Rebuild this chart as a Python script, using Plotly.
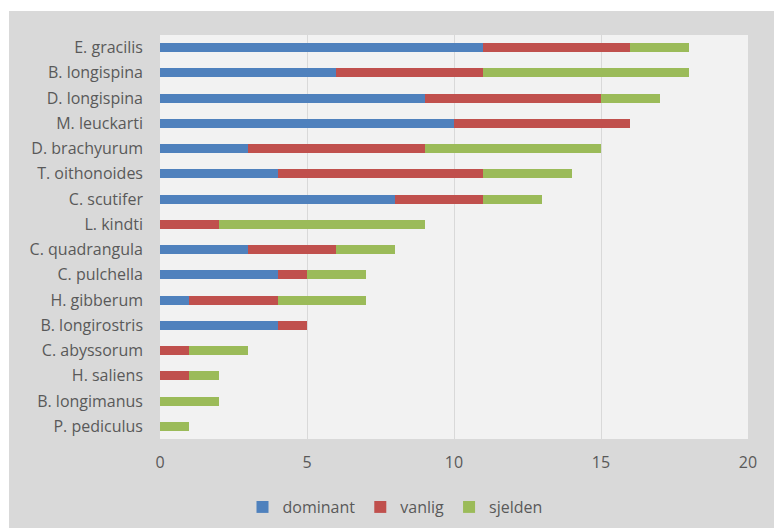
import plotly.graph_objects as go

# Species, top to bottom
species = [
    "E. gracilis", "B. longispina", "D. longispina", "M. leuckarti",
    "D. brachyurum", "T. oithonoides", "C. scutifer", "L. kindti",
    "C. quadrangula", "C. pulchella", "H. gibberum", "B. longirostris",
    "C. abyssorum", "H. saliens", "B. longimanus", "P. pediculus",
]

# Number of occurrences per frequency class
dominant = [11, 6, 9, 10, 3, 4, 8, 0, 3, 4, 1, 4, 0, 0, 0, 0]
vanlig = [5, 5, 6, 6, 6, 7, 3, 2, 3, 1, 3, 1, 1, 1, 0, 0]
sjelden = [2, 7, 2, 0, 6, 3, 2, 7, 2, 2, 3, 0, 2, 1, 2, 1]

x_ticks = [0, 5, 10, 15, 20]

series = [
    ("dominant", dominant, "#4f81bd"),
    ("vanlig", vanlig, "#c0504d"),
    ("sjelden", sjelden, "#9bbb59"),
]

FONT = "Open Sans, sans-serif"
TEXT = "#595959"

fig = go.Figure()
for name, vals, color in series:
    fig.add_trace(go.Bar(
        y=species, x=vals, name=name, orientation="h",
        marker=dict(color=color, line=dict(width=0)),
    ))

W, H = 774, 528
L, R, T, B = 160, 26, 35, 89
pw, ph = W - L - R, H - T - B

def px_x(p):
    return (p - L) / pw

def px_y(p):
    return (H - B - p) / ph

# white strips around the grey chart panel
fig.add_shape(type="rect", xref="paper", yref="paper",
              x0=px_x(-5), x1=px_x(9), y0=px_y(H + 5), y1=px_y(-5),
              fillcolor="white", line=dict(width=0), layer="below")
fig.add_shape(type="rect", xref="paper", yref="paper",
              x0=px_x(-5), x1=px_x(W + 5), y0=px_y(11), y1=px_y(-5),
              fillcolor="white", line=dict(width=0), layer="below")

fig.update_layout(
    width=W, height=H,
    barmode="stack", bargap=0.64,
    paper_bgcolor="#d9d9d9", plot_bgcolor="#f2f2f2",
    margin=dict(l=L, r=R, t=T, b=B, pad=0, autoexpand=False),
    font=dict(family=FONT, size=16, color=TEXT),
    legend=dict(orientation="h", x=px_x(395), xanchor="center",
                y=px_y(507), yanchor="middle",
                font=dict(family=FONT, size=16, color=TEXT),
                bgcolor="rgba(0,0,0,0)", itemwidth=30,
                traceorder="normal"),
    xaxis=dict(range=[0, 20], tickvals=x_ticks, ticktext=[str(v) for v in x_ticks],
               showgrid=True, gridcolor="#d9d9d9", gridwidth=1,
               zeroline=False, showline=False, ticks="",
               ticklabelstandoff=12,
               tickfont=dict(family=FONT, size=16, color=TEXT),
               automargin=False),
    yaxis=dict(categoryorder="array", categoryarray=species,
               autorange="reversed", showgrid=False, zeroline=False,
               showline=False, ticks="", ticklabelstandoff=16,
               tickfont=dict(family=FONT, size=16, color=TEXT),
               automargin=False),
)

fig.write_html("out.html")
